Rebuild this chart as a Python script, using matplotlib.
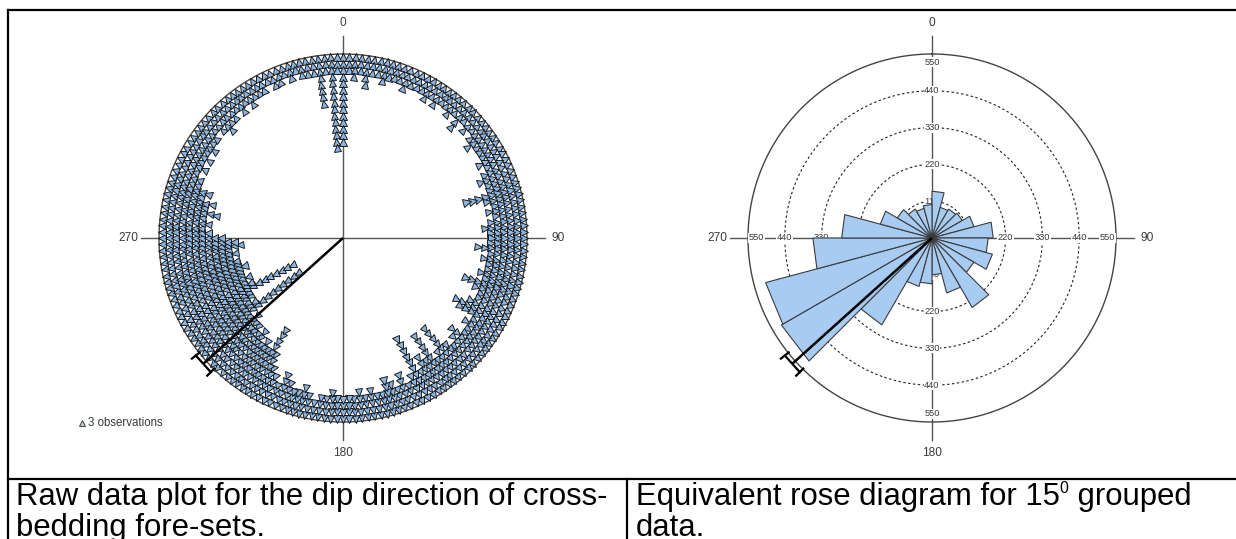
import numpy as np
import matplotlib
matplotlib.use("Agg")
import matplotlib.pyplot as plt
from matplotlib.markers import MarkerStyle
from matplotlib.transforms import Affine2D
from matplotlib.lines import Line2D

# ---------------- data ----------------
compass_labels = ["0", "90", "180", "270"]
compass_dirs = [0, 90, 180, 270]

# rose diagram: 15 degree classes (start of class), counts
rose_bin_start = list(range(0, 360, 15))
rose_counts = [140, 95, 100, 105, 130, 183, 168, 187, 145, 240, 170, 110,
               137, 150, 300, 520, 515, 356, 270, 160, 120, 100, 92, 100]
rose_rings = [110, 220, 330, 440]
rose_max = 550
rose_scale_labels = [110, 220, 330, 440, 550]

# mean direction and its confidence interval (degrees)
mean_direction = 228
conf_half_angle = 3.4

# raw data plot: number of stacked symbols (3 observations each) per
# 2 degree direction, one row per 30 degrees (0, 2, 4, ... 358)
obs_per_symbol = 3
raw_step_deg = 2
raw_symbols = [
    [14, 3, 4, 3, 5, 3, 3, 4, 3, 3, 3, 4, 3, 3, 3],          # 0-28
    [4, 3, 4, 3, 3, 4, 3, 5, 3, 4, 3, 4, 5, 4, 4],           # 30-58
    [4, 5, 4, 5, 6, 5, 5, 9, 6, 5, 6, 5, 6, 7, 6],           # 60-88
    [6, 6, 8, 6, 7, 6, 6, 7, 6, 9, 7, 6, 6, 7, 9],           # 90-118
    [8, 5, 6, 5, 5, 7, 6, 5, 6, 10, 6, 5, 10, 6, 7],         # 120-148
    [5, 11, 5, 4, 6, 4, 5, 6, 4, 4, 5, 4, 5, 4, 4],          # 150-178
    [4, 4, 5, 4, 4, 3, 4, 5, 4, 4, 5, 6, 4, 5, 6],           # 180-208
    [8, 12, 8, 9, 8, 10, 9, 10, 10, 11, 10, 20, 12, 11, 12], # 210-238
    [12, 20, 13, 12, 13, 12, 12, 13, 12, 12, 11, 12, 11, 13, 12],  # 240-268
    [10, 8, 7, 8, 7, 9, 7, 8, 6, 7, 5, 5, 4, 5, 4],          # 270-298
    [5, 4, 5, 4, 4, 3, 4, 5, 4, 4, 3, 4, 3, 4, 3],           # 300-328
    [3, 3, 2, 3, 3, 2, 3, 2, 3, 3, 3, 8, 3, 15, 3],          # 330-358
]

# ---------------- layout helpers ----------------
W, H = 1236, 539
R_PX = 184.0                      # radius of the outer circle in pixels
U = rose_max / R_PX               # data units per pixel


def fx(x):
    return x / W


def fy(y):
    return 1 - y / H


fig = plt.figure(figsize=(W / 100, H / 100), dpi=100)
fig.patch.set_facecolor("white")

TRI_FACE = "#8cb4de"
PETAL_FACE = "#a7cbf1"
AXIS_COL = "#555555"
TEXT_COL = "#3a3a3a"
FONT = "Liberation Sans"


def make_polar(cx, cy):
    ax = fig.add_axes([fx(cx - R_PX), fy(cy + R_PX), 2 * R_PX / W, 2 * R_PX / H],
                      projection="polar")
    ax.set_theta_zero_location("N")
    ax.set_theta_direction(-1)
    ax.set_ylim(0, rose_max)
    ax.set_axis_off()
    return ax


def draw_frame(ax, outer_color):
    th = np.linspace(0, 2 * np.pi, 721)
    ax.plot(th, np.full_like(th, rose_max), color=outer_color, lw=1.0,
            zorder=1.5, clip_on=False)
    for d, lab in zip(compass_dirs, compass_labels):
        t = np.deg2rad(d)
        ax.plot([t, t], [0, 202 * U], color=AXIS_COL, lw=1.0, zorder=1,
                clip_on=False)
        ax.text(t, 215 * U, lab, ha="center", va="center", fontsize=8.6,
                family=FONT, color=TEXT_COL, clip_on=False)


def draw_mean(ax):
    t = np.deg2rad(mean_direction)
    r_end = 188 * U
    ax.plot([t, t], [0, r_end], color="black", lw=1.8, zorder=6,
            solid_capstyle="butt", clip_on=False)
    d = np.deg2rad(conf_half_angle)
    r_t = r_end / np.cos(d)
    ax.plot([t - d, t + d], [r_t, r_t], color="black", lw=1.6, zorder=6,
            clip_on=False)
    for s in (-1, 1):
        ax.plot([t + s * d, t + s * d], [r_t - 5 * U, r_t + 5 * U],
                color="black", lw=1.6, zorder=6, clip_on=False)


# ---------------- left: raw data plot ----------------
axL = make_polar(343, 238)
draw_frame(axL, "#444444")

step = 6.5 * U
first_r = rose_max - 3.0 * U
for row_i, row in enumerate(raw_symbols):
    for k, n in enumerate(row):
        if n <= 0:
            continue
        deg = row_i * 30 + k * raw_step_deg
        t = np.deg2rad(deg)
        rs = first_r - step * np.arange(n)
        m = MarkerStyle("^", transform=Affine2D().rotate_deg(-deg))
        axL.plot(np.full(n, t), rs, ls="none", marker=m, ms=5.3,
                 mfc=TRI_FACE, mec="#101010", mew=0.65, zorder=3,
                 clip_on=False)
draw_mean(axL)

# legend symbol
fig.add_artist(Line2D([fx(82)], [fy(423)], ls="none",
                      marker="^", ms=5, mfc="#b9c9d9", mec="#444444", mew=0.7))
fig.text(fx(88), fy(423), f"{obs_per_symbol} observations", ha="left",
         va="center", fontsize=8.3, family=FONT, color=TEXT_COL)

# ---------------- right: rose diagram ----------------
axR = make_polar(932, 238)
draw_frame(axR, "#444444")

th = np.linspace(0, 2 * np.pi, 721)
for rr in rose_rings:
    axR.plot(th, np.full_like(th, rr), color="#222222", lw=0.8,
             ls=(0, (2.2, 2.2)), zorder=1.2)

for d in compass_dirs:
    t = np.deg2rad(d)
    for v in rose_scale_labels:
        rpos = v if v < rose_max else rose_max - 25
        axR.text(t, rpos, str(v), ha="center", va="center", fontsize=6.7,
                 family=FONT, color=TEXT_COL, zorder=2,
                 bbox=dict(facecolor="white", edgecolor="none", pad=0.4))

for start, cnt in zip(rose_bin_start, rose_counts):
    t0 = np.deg2rad(start)
    t1 = np.deg2rad(start + 15)
    axR.fill([0, t0, t1, 0], [0, cnt, cnt, 0], facecolor=PETAL_FACE,
             edgecolor="#3c3c3c", lw=0.8, zorder=3)
draw_mean(axR)

# ---------------- table lines ----------------
lw_tab = 1.6
fig.add_artist(Line2D([fx(8), fx(1236)], [fy(9.5), fy(9.5)], color="black", lw=lw_tab))
fig.add_artist(Line2D([fx(8), fx(8)], [fy(9.5), fy(539)], color="black", lw=lw_tab))
fig.add_artist(Line2D([fx(8), fx(1236)], [fy(479), fy(479)], color="black", lw=lw_tab))
fig.add_artist(Line2D([fx(627), fx(627)], [fy(479), fy(539)], color="black", lw=lw_tab))

# ---------------- captions ----------------
cap_size = 22.4
fig.text(fx(16), fy(505), "Raw data plot for the dip direction of cross-",
         fontsize=cap_size, family=FONT, va="baseline", ha="left")
fig.text(fx(16), fy(536), "bedding fore-sets.", fontsize=cap_size,
         family=FONT, va="baseline", ha="left")

renderer = fig.canvas.get_renderer()
t1 = fig.text(fx(636), fy(505), "Equivalent rose diagram for 15",
              fontsize=cap_size, family=FONT, va="baseline", ha="left")
bb = t1.get_window_extent(renderer=renderer)
x_sup = bb.x1 / W
t2 = fig.text(x_sup, fy(493), "0", fontsize=11.5, family=FONT,
              va="baseline", ha="left")
bb2 = t2.get_window_extent(renderer=renderer)
fig.text(bb2.x1 / W, fy(505), " grouped", fontsize=cap_size, family=FONT,
         va="baseline", ha="left")
fig.text(fx(636), fy(536), "data.", fontsize=cap_size, family=FONT,
         va="baseline", ha="left")

fig.savefig("out.png", dpi=100, facecolor="white")
